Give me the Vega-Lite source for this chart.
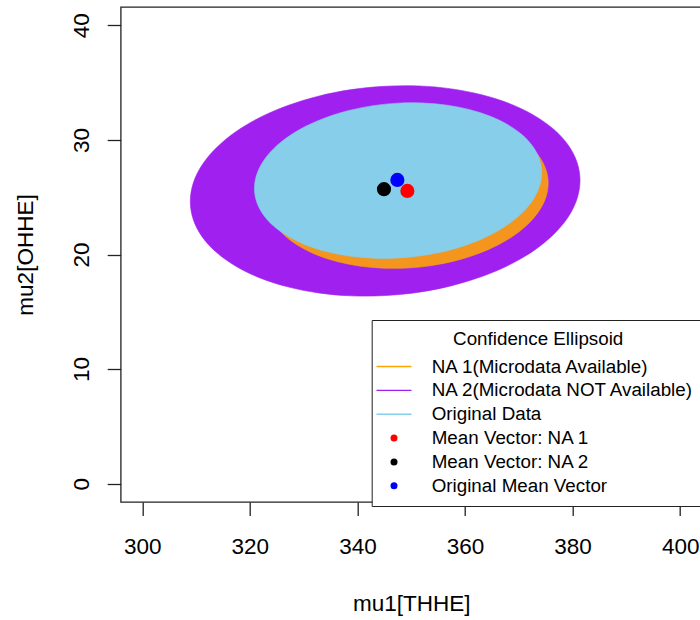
{
  "$schema": "https://vega.github.io/schema/vega-lite/v6.json",
  "width": 581,
  "height": 495,
  "autosize": {"type": "none"},
  "padding": {"left": 120.7, "top": 7, "right": -1.7, "bottom": 118},
  "background": "white",
  "config": {"view": {"stroke": "#222", "strokeWidth": 1.3}, "font": "Liberation Sans"},
  "datasets": {
    "ellipses": [
      {"series": "NA 2(Microdata NOT Available)", "i": 0, "x": 381.38, "y": 26.47},
      {"series": "NA 2(Microdata NOT Available)", "i": 1, "x": 380.83, "y": 28.04},
      {"series": "NA 2(Microdata NOT Available)", "i": 2, "x": 379.20, "y": 29.54},
      {"series": "NA 2(Microdata NOT Available)", "i": 3, "x": 376.53, "y": 30.91},
      {"series": "NA 2(Microdata NOT Available)", "i": 4, "x": 372.91, "y": 32.12},
      {"series": "NA 2(Microdata NOT Available)", "i": 5, "x": 368.44, "y": 33.14},
      {"series": "NA 2(Microdata NOT Available)", "i": 6, "x": 363.27, "y": 33.92},
      {"series": "NA 2(Microdata NOT Available)", "i": 7, "x": 357.55, "y": 34.45},
      {"series": "NA 2(Microdata NOT Available)", "i": 8, "x": 351.45, "y": 34.71},
      {"series": "NA 2(Microdata NOT Available)", "i": 9, "x": 345.16, "y": 34.68},
      {"series": "NA 2(Microdata NOT Available)", "i": 10, "x": 338.87, "y": 34.39},
      {"series": "NA 2(Microdata NOT Available)", "i": 11, "x": 332.77, "y": 33.82},
      {"series": "NA 2(Microdata NOT Available)", "i": 12, "x": 327.05, "y": 33.00},
      {"series": "NA 2(Microdata NOT Available)", "i": 13, "x": 321.88, "y": 31.96},
      {"series": "NA 2(Microdata NOT Available)", "i": 14, "x": 317.41, "y": 30.72},
      {"series": "NA 2(Microdata NOT Available)", "i": 15, "x": 313.79, "y": 29.32},
      {"series": "NA 2(Microdata NOT Available)", "i": 16, "x": 311.12, "y": 27.81},
      {"series": "NA 2(Microdata NOT Available)", "i": 17, "x": 309.49, "y": 26.23},
      {"series": "NA 2(Microdata NOT Available)", "i": 18, "x": 308.94, "y": 24.63},
      {"series": "NA 2(Microdata NOT Available)", "i": 19, "x": 309.49, "y": 23.06},
      {"series": "NA 2(Microdata NOT Available)", "i": 20, "x": 311.12, "y": 21.56},
      {"series": "NA 2(Microdata NOT Available)", "i": 21, "x": 313.79, "y": 20.19},
      {"series": "NA 2(Microdata NOT Available)", "i": 22, "x": 317.41, "y": 18.98},
      {"series": "NA 2(Microdata NOT Available)", "i": 23, "x": 321.88, "y": 17.96},
      {"series": "NA 2(Microdata NOT Available)", "i": 24, "x": 327.05, "y": 17.18},
      {"series": "NA 2(Microdata NOT Available)", "i": 25, "x": 332.77, "y": 16.65},
      {"series": "NA 2(Microdata NOT Available)", "i": 26, "x": 338.87, "y": 16.39},
      {"series": "NA 2(Microdata NOT Available)", "i": 27, "x": 345.16, "y": 16.42},
      {"series": "NA 2(Microdata NOT Available)", "i": 28, "x": 351.45, "y": 16.71},
      {"series": "NA 2(Microdata NOT Available)", "i": 29, "x": 357.55, "y": 17.28},
      {"series": "NA 2(Microdata NOT Available)", "i": 30, "x": 363.27, "y": 18.10},
      {"series": "NA 2(Microdata NOT Available)", "i": 31, "x": 368.44, "y": 19.14},
      {"series": "NA 2(Microdata NOT Available)", "i": 32, "x": 372.91, "y": 20.38},
      {"series": "NA 2(Microdata NOT Available)", "i": 33, "x": 376.53, "y": 21.78},
      {"series": "NA 2(Microdata NOT Available)", "i": 34, "x": 379.20, "y": 23.29},
      {"series": "NA 2(Microdata NOT Available)", "i": 35, "x": 380.83, "y": 24.87},
      {"series": "NA 1(Microdata Available)", "i": 0, "x": 375.46, "y": 26.23},
      {"series": "NA 1(Microdata Available)", "i": 1, "x": 375.06, "y": 27.38},
      {"series": "NA 1(Microdata Available)", "i": 2, "x": 373.88, "y": 28.49},
      {"series": "NA 1(Microdata Available)", "i": 3, "x": 371.95, "y": 29.50},
      {"series": "NA 1(Microdata Available)", "i": 4, "x": 369.34, "y": 30.39},
      {"series": "NA 1(Microdata Available)", "i": 5, "x": 366.11, "y": 31.14},
      {"series": "NA 1(Microdata Available)", "i": 6, "x": 362.38, "y": 31.71},
      {"series": "NA 1(Microdata Available)", "i": 7, "x": 358.24, "y": 32.10},
      {"series": "NA 1(Microdata Available)", "i": 8, "x": 353.83, "y": 32.29},
      {"series": "NA 1(Microdata Available)", "i": 9, "x": 349.29, "y": 32.28},
      {"series": "NA 1(Microdata Available)", "i": 10, "x": 344.75, "y": 32.06},
      {"series": "NA 1(Microdata Available)", "i": 11, "x": 340.34, "y": 31.64},
      {"series": "NA 1(Microdata Available)", "i": 12, "x": 336.20, "y": 31.04},
      {"series": "NA 1(Microdata Available)", "i": 13, "x": 332.47, "y": 30.27},
      {"series": "NA 1(Microdata Available)", "i": 14, "x": 329.24, "y": 29.36},
      {"series": "NA 1(Microdata Available)", "i": 15, "x": 326.63, "y": 28.33},
      {"series": "NA 1(Microdata Available)", "i": 16, "x": 324.70, "y": 27.22},
      {"series": "NA 1(Microdata Available)", "i": 17, "x": 323.52, "y": 26.05},
      {"series": "NA 1(Microdata Available)", "i": 18, "x": 323.12, "y": 24.87},
      {"series": "NA 1(Microdata Available)", "i": 19, "x": 323.52, "y": 23.72},
      {"series": "NA 1(Microdata Available)", "i": 20, "x": 324.70, "y": 22.61},
      {"series": "NA 1(Microdata Available)", "i": 21, "x": 326.63, "y": 21.60},
      {"series": "NA 1(Microdata Available)", "i": 22, "x": 329.24, "y": 20.71},
      {"series": "NA 1(Microdata Available)", "i": 23, "x": 332.47, "y": 19.96},
      {"series": "NA 1(Microdata Available)", "i": 24, "x": 336.20, "y": 19.39},
      {"series": "NA 1(Microdata Available)", "i": 25, "x": 340.34, "y": 19.00},
      {"series": "NA 1(Microdata Available)", "i": 26, "x": 344.75, "y": 18.81},
      {"series": "NA 1(Microdata Available)", "i": 27, "x": 349.29, "y": 18.82},
      {"series": "NA 1(Microdata Available)", "i": 28, "x": 353.83, "y": 19.04},
      {"series": "NA 1(Microdata Available)", "i": 29, "x": 358.24, "y": 19.46},
      {"series": "NA 1(Microdata Available)", "i": 30, "x": 362.38, "y": 20.06},
      {"series": "NA 1(Microdata Available)", "i": 31, "x": 366.11, "y": 20.83},
      {"series": "NA 1(Microdata Available)", "i": 32, "x": 369.34, "y": 21.74},
      {"series": "NA 1(Microdata Available)", "i": 33, "x": 371.95, "y": 22.77},
      {"series": "NA 1(Microdata Available)", "i": 34, "x": 373.88, "y": 23.89},
      {"series": "NA 1(Microdata Available)", "i": 35, "x": 375.06, "y": 25.05},
      {"series": "Original Data", "i": 0, "x": 374.26, "y": 27.13},
      {"series": "Original Data", "i": 1, "x": 373.85, "y": 28.29},
      {"series": "Original Data", "i": 2, "x": 372.65, "y": 29.40},
      {"series": "Original Data", "i": 3, "x": 370.68, "y": 30.42},
      {"series": "Original Data", "i": 4, "x": 368.01, "y": 31.31},
      {"series": "Original Data", "i": 5, "x": 364.72, "y": 32.06},
      {"series": "Original Data", "i": 6, "x": 360.91, "y": 32.64},
      {"series": "Original Data", "i": 7, "x": 356.69, "y": 33.03},
      {"series": "Original Data", "i": 8, "x": 352.20, "y": 33.22},
      {"series": "Original Data", "i": 9, "x": 347.56, "y": 33.21},
      {"series": "Original Data", "i": 10, "x": 342.92, "y": 32.99},
      {"series": "Original Data", "i": 11, "x": 338.43, "y": 32.57},
      {"series": "Original Data", "i": 12, "x": 334.21, "y": 31.96},
      {"series": "Original Data", "i": 13, "x": 330.40, "y": 31.19},
      {"series": "Original Data", "i": 14, "x": 327.11, "y": 30.27},
      {"series": "Original Data", "i": 15, "x": 324.44, "y": 29.24},
      {"series": "Original Data", "i": 16, "x": 322.47, "y": 28.12},
      {"series": "Original Data", "i": 17, "x": 321.27, "y": 26.95},
      {"series": "Original Data", "i": 18, "x": 320.86, "y": 25.77},
      {"series": "Original Data", "i": 19, "x": 321.27, "y": 24.61},
      {"series": "Original Data", "i": 20, "x": 322.47, "y": 23.50},
      {"series": "Original Data", "i": 21, "x": 324.44, "y": 22.48},
      {"series": "Original Data", "i": 22, "x": 327.11, "y": 21.59},
      {"series": "Original Data", "i": 23, "x": 330.40, "y": 20.84},
      {"series": "Original Data", "i": 24, "x": 334.21, "y": 20.26},
      {"series": "Original Data", "i": 25, "x": 338.43, "y": 19.87},
      {"series": "Original Data", "i": 26, "x": 342.92, "y": 19.68},
      {"series": "Original Data", "i": 27, "x": 347.56, "y": 19.69},
      {"series": "Original Data", "i": 28, "x": 352.20, "y": 19.92},
      {"series": "Original Data", "i": 29, "x": 356.69, "y": 20.33},
      {"series": "Original Data", "i": 30, "x": 360.91, "y": 20.94},
      {"series": "Original Data", "i": 31, "x": 364.72, "y": 21.71},
      {"series": "Original Data", "i": 32, "x": 368.01, "y": 22.63},
      {"series": "Original Data", "i": 33, "x": 370.68, "y": 23.66},
      {"series": "Original Data", "i": 34, "x": 372.65, "y": 24.78},
      {"series": "Original Data", "i": 35, "x": 373.85, "y": 25.95}
    ],
    "means": [
      {"series": "Mean Vector: NA 2", "x": 344.94, "y": 25.70},
      {"series": "Mean Vector: NA 1", "x": 349.29, "y": 25.55},
      {"series": "Original Mean Vector", "x": 347.43, "y": 26.51}
    ]
  },
  "encoding": {
    "x": {
      "field": "x", "type": "quantitative",
      "scale": {"domain": [296, 404], "nice": false, "zero": false},
      "axis": {
        "values": [300, 320, 340, 360, 380, 400],
        "title": "mu1[THHE]", "grid": false, "domain": false,
        "tickSize": 13.5, "tickColor": "#222", "tickWidth": 1.3,
        "labelFont": "Liberation Sans", "labelFontSize": 22.5, "labelColor": "#000",
        "labelBaseline": "alphabetic", "labelPadding": 38.2, "labelFlush": false, "labelOverlap": false,
        "titleFont": "Liberation Sans", "titleFontSize": 22.5, "titleFontWeight": "normal", "titleColor": "#000",
        "titleBaseline": "alphabetic", "titleY": 108.2
      }
    },
    "y": {
      "field": "y", "type": "quantitative",
      "scale": {"domain": [-1.6, 41.6], "nice": false, "zero": false},
      "axis": {
        "values": [0, 10, 20, 30, 40],
        "title": "mu2[OHHE]", "grid": false, "domain": false,
        "tickSize": 13.5, "tickColor": "#222", "tickWidth": 1.3,
        "labelFont": "Liberation Sans", "labelFontSize": 22.5, "labelColor": "#000",
        "labelAngle": 270, "labelAlign": "center", "labelBaseline": "alphabetic", "labelPadding": 18.9,
        "labelFlush": false, "labelOverlap": false,
        "titleFont": "Liberation Sans", "titleFontSize": 22.5, "titleFontWeight": "normal", "titleColor": "#000",
        "titleAngle": 270, "titleBaseline": "alphabetic", "titleX": -88
      }
    }
  },
  "layer": [
    {
      "data": {"name": "ellipses"},
      "transform": [{"filter": {"field": "series", "equal": "NA 2(Microdata NOT Available)"}}],
      "mark": {"type": "line", "interpolate": "cardinal-closed", "fill": "#A020F0", "stroke": "#A020F0", "strokeWidth": 0.6},
      "encoding": {"order": {"field": "i", "type": "quantitative"}}
    },
    {
      "data": {"name": "ellipses"},
      "transform": [{"filter": {"field": "series", "equal": "NA 1(Microdata Available)"}}],
      "mark": {"type": "line", "interpolate": "cardinal-closed", "fill": "#FFA500", "fillOpacity": 0.88, "stroke": "#FFA500", "strokeWidth": 0.6},
      "encoding": {"order": {"field": "i", "type": "quantitative"}}
    },
    {
      "data": {"name": "ellipses"},
      "transform": [{"filter": {"field": "series", "equal": "Original Data"}}],
      "mark": {"type": "line", "interpolate": "cardinal-closed", "fill": "#87CEEB", "stroke": "#87CEEB", "strokeWidth": 0.6},
      "encoding": {"order": {"field": "i", "type": "quantitative"}}
    },
    {
      "data": {"name": "means"},
      "mark": {"type": "point", "filled": true, "size": 200, "opacity": 1},
      "encoding": {
        "color": {
          "field": "series", "type": "nominal",
          "scale": {
            "domain": ["NA 1(Microdata Available)", "NA 2(Microdata NOT Available)", "Original Data", "Mean Vector: NA 1", "Mean Vector: NA 2", "Original Mean Vector"],
            "range": ["#FFA500", "#A020F0", "#87CEEB", "#FF0000", "#000000", "#0000FF"]
          },
          "legend": {
            "title": "Confidence Ellipsoid",
            "orient": "none", "legendX": 251, "legendY": 313,
            "padding": 9.5, "strokeColor": "#222", "fillColor": "white",
            "titleAnchor": "middle", "titleFont": "Liberation Sans", "titleFontSize": 18.8, "titleFontWeight": "normal", "titleColor": "#000", "titlePadding": 8.8,
            "labelFont": "Liberation Sans", "labelFontSize": 18.8, "labelColor": "#000", "labelOffset": 28.3, "labelLimit": 400,
            "symbolOffset": 3.4, "rowPadding": 3.86, "symbolSize": 49, "symbolStrokeWidth": 0.8,
            "encode": {
              "symbols": {
                "update": {
                  "stroke": {"scale": "color", "field": "value"},
                  "strokeWidth": {"value": 0.8},
                  "size": {"value": 49},
                  "opacity": {"value": 1}
                }
              }
            }
          }
        },
        "shape": {
          "field": "series", "type": "nominal",
          "scale": {
            "domain": ["NA 1(Microdata Available)", "NA 2(Microdata NOT Available)", "Original Data", "Mean Vector: NA 1", "Mean Vector: NA 2", "Original Mean Vector"],
            "range": ["M-5,-0.2H5V0.2H-5Z", "M-5,-0.2H5V0.2H-5Z", "M-5,-0.2H5V0.2H-5Z", "circle", "circle", "circle"]
          },
          "legend": {
            "title": "Confidence Ellipsoid",
            "orient": "none", "legendX": 251, "legendY": 313,
            "padding": 9.5, "strokeColor": "#222", "fillColor": "white",
            "titleAnchor": "middle", "titleFont": "Liberation Sans", "titleFontSize": 18.8, "titleFontWeight": "normal", "titleColor": "#000", "titlePadding": 8.8,
            "labelFont": "Liberation Sans", "labelFontSize": 18.8, "labelColor": "#000", "labelOffset": 28.3, "labelLimit": 400,
            "symbolOffset": 3.4, "rowPadding": 3.86, "symbolSize": 49, "symbolStrokeWidth": 0.8,
            "encode": {
              "symbols": {
                "update": {
                  "stroke": {"scale": "color", "field": "value"},
                  "strokeWidth": {"value": 0.8},
                  "size": {"value": 49},
                  "opacity": {"value": 1}
                }
              }
            }
          }
        }
      }
    }
  ]
}
